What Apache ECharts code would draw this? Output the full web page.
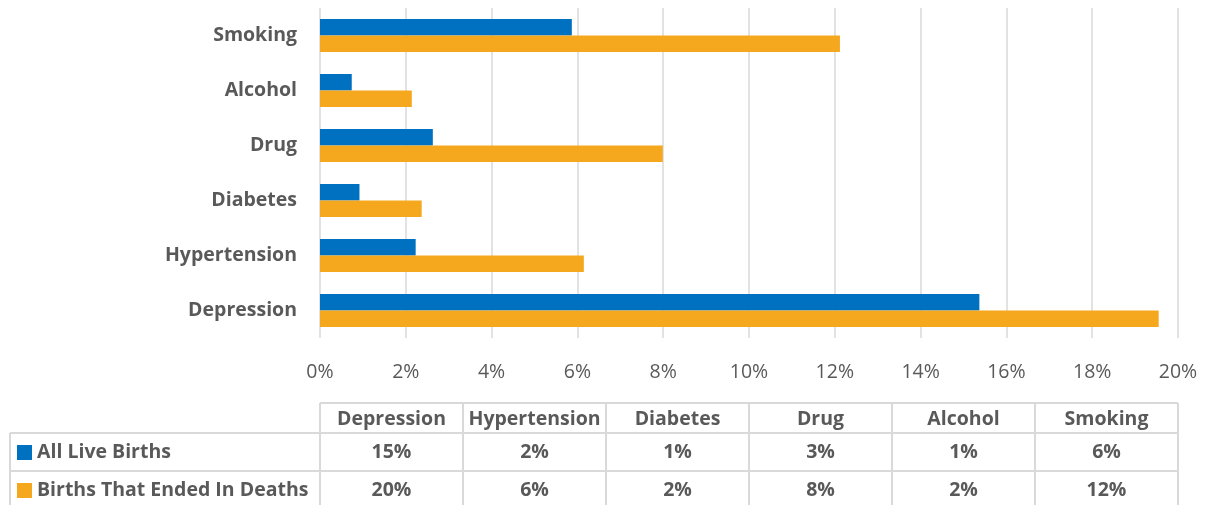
<!DOCTYPE html>
<html>
<head>
<meta charset="utf-8">
<script src="https://cdn.jsdelivr.net/npm/echarts@6/dist/echarts.min.js"></script>
<style>
  html, body { margin: 0; padding: 0; background: #fff; }
  #main { width: 1206px; height: 505px; }
</style>
</head>
<body>
<div id="main"></div>
<script>
// risk factors, bottom to top on the chart (same order as table columns)
var categories = ['Depression', 'Hypertension', 'Diabetes', 'Drug', 'Alcohol', 'Smoking'];
var liveBirths = [15.37, 2.23, 0.92, 2.63, 0.74, 5.87];
var deathBirths = [19.55, 6.15, 2.37, 7.99, 2.14, 12.12];
var seriesNames = ['All Live Births', 'Births That Ended In Deaths'];

var BLUE = '#0070C0', ORANGE = '#F5A81E', TXT = '#595959', LINE = '#D9D9D9';
var FONT = '"Open Sans", Lato, sans-serif';

var chart = echarts.init(document.getElementById('main'));

var gridLeft = 320, gridRight = 28;
var plotW = 1206 - gridLeft - gridRight;
var colW = plotW / categories.length;

// data table under the chart
var g = [];
var yHead = 403, yR1 = 433, yR2 = 471, yBot = 512;
var tableLeft = 10;
function line(x1, y1, x2, y2) {
  g.push({ type: 'line', shape: { x1: x1, y1: y1, x2: x2, y2: y2 },
    style: { stroke: LINE, lineWidth: 2 }, silent: true });
}
line(gridLeft, yHead, gridLeft + plotW, yHead);
line(tableLeft, yR1, gridLeft + plotW, yR1);
line(tableLeft, yR2, gridLeft + plotW, yR2);
line(tableLeft, yR1, tableLeft, yBot);
for (var c = 0; c <= categories.length; c++) {
  var xx = gridLeft + c * colW;
  line(xx, yHead, xx, yBot);
}
function txt(x, y, s, align, size) {
  g.push({ type: 'text', x: x, y: y, silent: true,
    style: { text: s, font: 'bold ' + (size || 19.5) + 'px ' + FONT, fill: TXT,
      textAlign: align || 'center', textVerticalAlign: 'middle' } });
}
var rowsMid = [452, 490];
var rowData = [liveBirths, deathBirths];
var rowColor = [BLUE, ORANGE];
categories.forEach(function (name, i) {
  var cx = gridLeft + (i + 0.5) * colW;
  txt(cx, 419, name);
  txt(cx, rowsMid[0], Math.round(rowData[0][i]) + '%');
  txt(cx, rowsMid[1], Math.round(rowData[1][i]) + '%');
});
for (var r = 0; r < 2; r++) {
  g.push({ type: 'rect', shape: { x: 17, y: rowsMid[r] - 7, width: 15, height: 15 },
    style: { fill: rowColor[r] }, silent: true });
  txt(37, rowsMid[r], seriesNames[r], 'left', 19.5);
}

chart.setOption({
  backgroundColor: '#fff',
  animation: false,
  grid: { left: gridLeft, right: gridRight, top: 8, bottom: 167 },
  xAxis: {
    type: 'value', min: 0, max: 20, interval: 2,
    axisLine: { show: false }, axisTick: { show: false },
    splitLine: { lineStyle: { color: LINE, width: 1.5 } },
    axisLabel: { formatter: '{value}%', color: TXT, fontSize: 19.5, fontFamily: FONT, margin: 24 }
  },
  yAxis: {
    type: 'category', data: categories,
    axisLine: { show: false }, axisTick: { show: false },
    axisLabel: { color: TXT, fontSize: 19.5, fontWeight: 'bold', fontFamily: FONT, margin: 23,
      padding: [4, 0, 0, 0] }
  },
  series: [
    { name: seriesNames[0], type: 'bar', data: liveBirths, barGap: '0%', barCategoryGap: '40%',
      itemStyle: { color: BLUE } },
    { name: seriesNames[1], type: 'bar', data: deathBirths, barGap: '0%', barCategoryGap: '40%',
      itemStyle: { color: ORANGE } }
  ],
  graphic: g
});
</script>
</body>
</html>
